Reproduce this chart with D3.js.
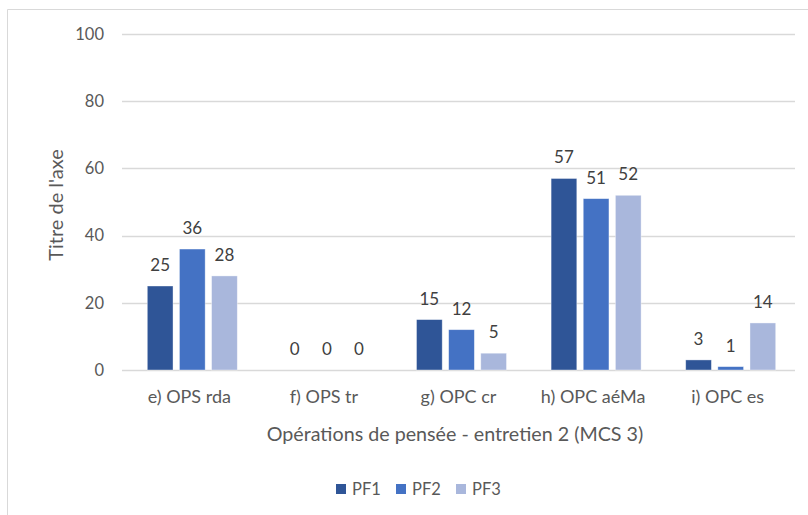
<!DOCTYPE html>
<html lang="fr">
<head>
    <meta charset="UTF-8">
    <title>Opérations de pensée - entretien 2</title>
    <script src="https://d3js.org/d3.v7.min.js"></script>
    <style>
        body { margin: 0; background: #fff; }
        text { font-family: Lato, "Open Sans", sans-serif; }
    </style>
</head>
<body>
    <svg width="808" height="515"></svg>
    <script>
        // données
        const categories = ['e) OPS rda', 'f) OPS tr', 'g) OPC cr', 'h) OPC aéMa', 'i) OPC es'];
        const seriesNames = ['PF1', 'PF2', 'PF3'];
        const pf1 = [25, 0, 15, 57, 3];
        const pf2 = [36, 0, 12, 51, 1];
        const pf3 = [28, 0, 5, 52, 14];
        const yTicks = [0, 20, 40, 60, 80, 100];
        const colors = ['#2F5597', '#4472C4', '#A9B7DC'];

        const series = [pf1, pf2, pf3];
        const width = 808, height = 515;
        const svg = d3.select('svg');

        // cadre (bords gauche et haut seulement visibles)
        svg.append('path')
            .attr('d', `M7.5,${height} L7.5,9.5 L${width},9.5`)
            .attr('fill', 'none')
            .attr('stroke', '#d9d9d9')
            .attr('stroke-width', 1);

        const plotLeft = 122, plotRight = 795, plotTop = 34, plotBottom = 370;

        const x0 = d3.scaleBand().domain(categories).range([plotLeft, plotRight]).padding(0);
        const x1 = d3.scaleBand().domain(seriesNames).range([0, 90]).paddingInner(0.2).paddingOuter(0);
        const y = d3.scaleLinear().domain([0, 100]).range([plotBottom, plotTop]);

        // grille
        svg.append('g').selectAll('line')
            .data(yTicks)
            .join('line')
            .attr('x1', plotLeft).attr('x2', plotRight)
            .attr('y1', d => Math.round(y(d)) + 0.5)
            .attr('y2', d => Math.round(y(d)) + 0.5)
            .attr('stroke', '#d9d9d9')
            .attr('stroke-width', 1.5);

        // étiquettes axe Y
        svg.append('g').selectAll('text')
            .data(yTicks)
            .join('text')
            .attr('x', 104)
            .attr('y', d => y(d))
            .attr('dy', '0.35em')
            .attr('text-anchor', 'end')
            .attr('font-size', 16.5)
            .attr('fill', '#595959')
            .text(d => d);

        // barres
        const groups = svg.append('g').selectAll('g')
            .data(categories)
            .join('g')
            .attr('transform', d => `translate(${x0(d) + (x0.bandwidth() - 90) / 2 + 3},0)`);

        groups.selectAll('rect')
            .data((c, i) => series.map((s, j) => ({ name: seriesNames[j], value: s[i], j })))
            .join('rect')
            .attr('x', d => x1(d.name))
            .attr('width', x1.bandwidth())
            .attr('y', d => y(d.value))
            .attr('height', d => y(0) - y(d.value))
            .attr('fill', d => colors[d.j])
            .attr('stroke', d => d.value > 0 ? 'rgba(255,255,255,0.5)' : 'none')
            .attr('stroke-width', 0.75);

        // étiquettes de données
        groups.selectAll('text')
            .data((c, i) => series.map((s, j) => ({ name: seriesNames[j], value: s[i] })))
            .join('text')
            .attr('x', d => x1(d.name) + x1.bandwidth() / 2)
            .attr('y', d => y(d.value) - 15)
            .attr('text-anchor', 'middle')
            .attr('font-size', 17)
            .attr('fill', '#404040')
            .text(d => d.value);

        // étiquettes axe X
        svg.append('g').selectAll('text')
            .data(categories)
            .join('text')
            .attr('x', d => x0(d) + x0.bandwidth() / 2)
            .attr('y', 403)
            .attr('text-anchor', 'middle')
            .attr('font-size', 18)
            .attr('fill', '#595959')
            .text(d => d);

        // titres des axes
        svg.append('text')
            .attr('x', 455)
            .attr('y', 441)
            .attr('text-anchor', 'middle')
            .attr('font-size', 19.7)
            .attr('fill', '#595959')
            .text('Opérations de pensée - entretien 2 (MCS 3)');

        svg.append('text')
            .attr('transform', `translate(63,${(plotTop + plotBottom) / 2 + 3}) rotate(-90)`)
            .attr('text-anchor', 'middle')
            .attr('font-size', 20)
            .attr('fill', '#595959')
            .text("Titre de l'axe");

        // légende
        const legend = svg.append('g').selectAll('g')
            .data(seriesNames)
            .join('g')
            .attr('transform', (d, i) => `translate(${336 + i * 60},489)`);

        legend.append('rect')
            .attr('x', 0).attr('y', -5)
            .attr('width', 10).attr('height', 10)
            .attr('fill', (d, i) => colors[i]);

        legend.append('text')
            .attr('x', 16)
            .attr('y', 0)
            .attr('dy', '0.35em')
            .attr('font-size', 16.5)
            .attr('fill', '#595959')
            .text(d => d);
    </script>
</body>
</html>
